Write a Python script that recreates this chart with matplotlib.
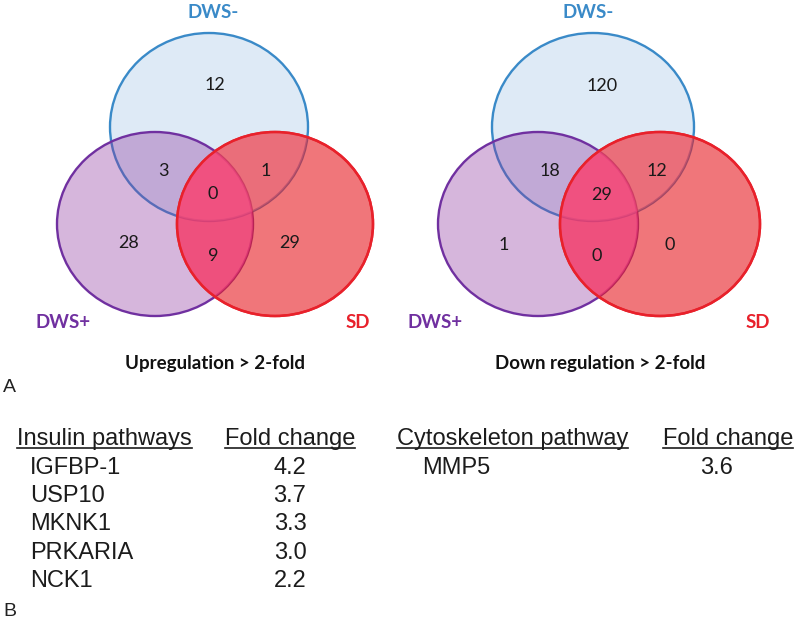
import matplotlib
matplotlib.use("Agg")
import matplotlib.pyplot as plt
from matplotlib.patches import Ellipse

# ---------------- data ----------------
set_names = ["DWS-", "DWS+", "SD"]
# region order: DWS- only, DWS-&DWS+, DWS-&SD, all, DWS+ only, DWS+&SD, SD only
up_counts = [12, 3, 1, 0, 28, 9, 29]
down_counts = [120, 18, 12, 29, 1, 0, 0]
venn_titles = ["Upregulation > 2-fold", "Down regulation > 2-fold"]

insulin_header = ["Insulin pathways", "Fold change"]
insulin_genes = ["IGFBP-1", "USP10", "MKNK1", "PRKARIA", "NCK1"]
insulin_fc = [4.2, 3.7, 3.3, 3.0, 2.2]
cyto_header = ["Cytoskeleton pathway", "Fold change"]
cyto_genes = ["MMP5"]
cyto_fc = [3.6]

# ---------------- figure ----------------
W, H = 800, 623
fig = plt.figure(figsize=(W / 100, H / 100), dpi=100)
ax = fig.add_axes([0, 0, 1, 1])
ax.set_xlim(0, W)
ax.set_ylim(H, 0)
ax.axis("off")

venn_font = ["Lato", "DejaVu Sans"]
tab_font = ["Liberation Sans", "DejaVu Sans"]

blue_edge = "#3a8ac8"
purple_edge = "#7030a0"
red_edge = "#e8212b"
blue_face = (222 / 255, 234 / 255, 246 / 255, 1.0)
purple_face = (142 / 255, 55 / 255, 158 / 255, 0.36)
red_face = (230 / 255, 27 / 255, 33 / 255, 0.60)
pink_overlay = (253 / 255, 72 / 255, 143 / 255, 0.5)
salmon_overlay = (250 / 255, 110 / 255, 130 / 255, 0.35)


def venn(ox, geom):
    (bc, brx, bry), (pc, prx, pry), (rc, rrx, rry) = geom
    specs = [
        (bc, brx, bry, blue_face, blue_edge),
        (pc, prx, pry, purple_face, purple_edge),
        (rc, rrx, rry, red_face, red_edge),
    ]
    patches = []
    for z, (c, rx, ry, fc, ec) in enumerate(specs):
        e = Ellipse((ox + c[0], c[1]), 2 * rx, 2 * ry, facecolor=fc,
                    edgecolor=ec, linewidth=1.7, zorder=2 + z)
        ax.add_patch(e)
        patches.append(e)
    # tint of the red lens overlaps
    ov = Ellipse((ox + rc[0], rc[1]), 2 * rrx, 2 * rry, facecolor=pink_overlay,
                 edgecolor="none", zorder=5)
    ax.add_patch(ov)
    ov.set_clip_path(patches[1])
    ov2 = Ellipse((ox + rc[0], rc[1]), 2 * rrx, 2 * rry, facecolor=salmon_overlay,
                  edgecolor="none", zorder=4.9)
    ax.add_patch(ov2)
    ov2.set_clip_path(patches[0])
    # red outline on top
    ax.add_patch(Ellipse((ox + rc[0], rc[1]), 2 * rrx, 2 * rry, facecolor="none",
                         edgecolor=red_edge, linewidth=1.8, zorder=6))


# geometry (pixel coords relative to panel origin)
geom_left = [((209, 127), 99, 94), ((155, 224), 98, 92), ((275, 224), 98, 92)]
geom_right = [((193, 127), 101, 94), ((138, 224), 100, 92), ((260, 224), 100, 92)]

venn(0, geom_left)
venn(400, geom_right)

# number anchors
pos_left = [(215, 85), (163, 171), (266, 171), (213, 194), (129, 243), (213, 256), (290, 243)]
pos_right = [(202, 86), (150, 171), (257, 171), (202, 195), (104, 245), (197, 256), (270, 245)]

for ox, counts, pos in [(0, up_counts, pos_left), (400, down_counts, pos_right)]:
    for n, (x, y) in zip(counts, pos):
        ax.text(ox + x, y, str(n), ha="center", va="center", fontsize=13,
                color="#1a1a1a", family=venn_font, zorder=10)

# set labels
label_pos_left = [(213, 13), (63, 323), (358, 323)]
label_pos_right = [(188, 13), (35, 323), (358, 323)]
label_cols = [blue_edge, purple_edge, red_edge]
for ox, lp in [(0, label_pos_left), (400, label_pos_right)]:
    for name, (x, y), col in zip(set_names, lp, label_cols):
        ax.text(ox + x, y, name, ha="center", va="center", fontsize=13.5,
                fontweight="bold", color=col, family=venn_font, zorder=10)

ax.text(215, 364, venn_titles[0], ha="center", va="center", fontsize=13.5,
        fontweight="bold", color="#111111", family=venn_font)
ax.text(600, 364, venn_titles[1], ha="center", va="center", fontsize=13.5,
        fontweight="bold", color="#111111", family=venn_font)

ax.text(3, 388, "A", ha="left", va="center", fontsize=14, color="#222222", family=tab_font)
ax.text(3, 612, "B", ha="left", va="center", fontsize=14, color="#222222", family=tab_font)

# ---------------- table ----------------
fs = 17
txt_col = "#1c1c1c"
header_base = 445
row0_base = 474
row_step = 28.2

fig.canvas.draw()
renderer = fig.canvas.get_renderer()
inv = ax.transData.inverted()


def header(x, s):
    t = ax.text(x, header_base, s, ha="left", va="baseline", fontsize=fs,
                color=txt_col, family=tab_font)
    bb = t.get_window_extent(renderer=renderer)
    (x0, _), (x1, _) = inv.transform([(bb.x0, bb.y0), (bb.x1, bb.y0)])
    ax.plot([x0, x1], [header_base + 3, header_base + 3], color=txt_col, lw=1.2)


header(17, insulin_header[0])
header(225, insulin_header[1])
header(397, cyto_header[0])
header(663, cyto_header[1])

for i, (g, v) in enumerate(zip(insulin_genes, insulin_fc)):
    y = row0_base + i * row_step
    ax.text(30, y, g, ha="left", va="baseline", fontsize=fs, color=txt_col, family=tab_font)
    ax.text(290, y, f"{v:.1f}", ha="center", va="baseline", fontsize=fs, color=txt_col, family=tab_font)

for i, (g, v) in enumerate(zip(cyto_genes, cyto_fc)):
    y = row0_base + i * row_step
    ax.text(422, y, g, ha="left", va="baseline", fontsize=fs, color=txt_col, family=tab_font)
    ax.text(717, y, f"{v:.1f}", ha="center", va="baseline", fontsize=fs, color=txt_col, family=tab_font)

fig.savefig("out.png", dpi=100)
